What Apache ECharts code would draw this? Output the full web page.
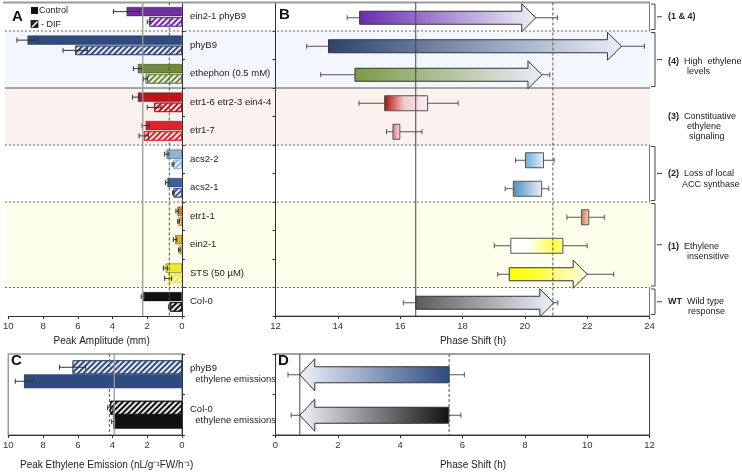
<!DOCTYPE html>
<html><head><meta charset="utf-8">
<script src="https://cdn.jsdelivr.net/npm/echarts@6/dist/echarts.min.js"></script>
<style>html,body{margin:0;padding:0;background:#fff}#c{width:742px;height:473px}</style>
</head><body><div id="c"></div>
<script>
// ---------- data ----------
const rowLabels = ['ein2-1 phyB9','phyB9','ethephon (0.5 mM)','etr1-6 etr2-3 ein4-4','etr1-7','acs2-2','acs2-1','etr1-1','ein2-1','STS (50 µM)','Col-0'];
const ampControl    = [3.2, 8.9, 2.55, 2.55, 2.1, 0.9, 0.85, 0.27, 0.4, 0.95, 2.25];
const ampControlErr = [0.75, 0.6, 0.25, 0.3, 0.2, 0.1, 0.1, 0.08, 0.1, 0.12, 0.1];
const ampDif        = [1.9, 6.15, 2.1, 1.6, 2.2, 0.52, 0.5, 0.2, 0.15, 0.8, 0.7];
const ampDifErr     = [0.1, 0.7, 0.12, 0.4, 0.27, 0.05, 0.05, 0.05, 0.05, 0.2, 0.08];
const ampRefs = [2.26, 0.73];

const phaseStart    = [14.7, 13.7, 14.55, 15.5, 15.77, 20.02, 19.63, 21.82, 19.55, 19.5, 16.5];
const phaseStartErr = [0.4, 0.7, 1.1, 0.82, 0.21, 0.32, 0.26, 0.47, 0.53, 0.37, 0.4];
const phaseEnd      = [20.35, 23.1, 20.55, 16.88, 15.99, 20.6, 20.54, 22.05, 21.22, 22.0, 20.93];
const phaseEndErr   = [0.7, 0.74, 0.25, 0.98, 0.71, 0.34, 0.23, 0.5, 0.78, 0.85, 0.13];
const phaseShape    = ['arrow','arrow','arrow','box','box','box','box','box','box','arrow','arrow'];
const phaseRefs = [16.5, 20.9];

const emisLabels = ['phyB9\n  ethylene emissions', 'Col-0\n  ethylene emissions'];
const emisDif        = [6.3, 4.13];
const emisDifErr     = [0.75, 0.15];
const emisControl    = [9.1, 3.95];
const emisControlErr = [0.5, 0.1];
const emisRefs = [3.9, 4.18];

const shiftTail    = [5.57, 5.56];
const shiftTailErr = [0.49, 0.39];
const shiftTip     = [0.78, 0.78];
const shiftTipErr  = [0.38, 0.28];
const shiftRefs = [0.78, 5.57];

// groups (row index ranges)
const bandFrom = [1, 3, 7];
const bandTo   = [2, 4, 9];
const bracketFrom = [0, 1, 5, 7, 10];
const bracketTo   = [0, 2, 6, 9, 10];
const sepRows = [0, 1, 3, 5, 7, 10];
const sepKind = ['frame','dot','solid','dot','dot','dot'];

// ---------- styles ----------
const FONT = '"Liberation Sans", Arial, sans-serif';
const barColors = ['#7030a0','#2f4a7e','#6f8a3e','#c0141c','#e0242a','#92b2de','#3e5f9c','#dc8a3a','#e4b42a','#efe935','#111111'];
const emisColors = ['#2f4a7e', '#111111'];
const bandFills = ['#f3f7fd','#fbf1ef','#fefeec'];
const phaseGrad = [
  [[0,'#6a2db0'],[1,'#eef0f8']],
  [[0,'#2c4470'],[1,'#e8eef9']],
  [[0,'#7c9a44'],[1,'#e8eef8']],
  [[0,'#b00c0c'],[0.45,'#f0c8cc'],[1,'#f8eef4']],
  [[0,'#e07080'],[1,'#f8e4ea']],
  [[0,'#6aaed6'],[1,'#eeeefa']],
  [[0,'#4a8fbe'],[1,'#eeeefa']],
  [[0,'#c47a4c'],[1,'#f2d8cc']],
  [[0,'#ffffff'],[0.3,'#ffffff'],[0.85,'#ffff40'],[1,'#ffffa8']],
  [[0,'#ffff00'],[0.3,'#ffff30'],[1,'#fbfbe6']],
  [[0,'#5a5a5a'],[1,'#eef2fa']]
];
const shiftGrad = [
  [[0,'#2c4a80'],[1,'#eef2fa']],
  [[0,'#111111'],[1,'#f2f3fa']]
];
const BAR_W = 9.5, BAR_GAP = 0.08;
const BAR_OFF = BAR_W * (1 + BAR_GAP) / 2;
const C_BAR_W = 14;

function hatch() {
  return { symbol:'rect', symbolSize:1, color:'rgba(255,255,255,0.9)', dashArrayX:[1,0], dashArrayY:[2,1.8], rotation:-Math.PI/4 };
}

function errRender(off) {
  return function(params, api) {
    const v = api.value(0), cat = api.value(1), e = api.value(2);
    const y = api.coord([v, cat])[1] + off;
    const xa = api.coord([v - e, cat])[0], xb = api.coord([v + e, cat])[0];
    const st = {stroke:'#333', lineWidth:1};
    return {type:'group', children:[
      {type:'line', shape:{x1:xa,y1:y,x2:xb,y2:y}, style:st},
      {type:'line', shape:{x1:xa,y1:y-2.5,x2:xa,y2:y+2.5}, style:st},
      {type:'line', shape:{x1:xb,y1:y-2.5,x2:xb,y2:y+2.5}, style:st}
    ]};
  };
}

function refRender(styles) {
  return function(params, api) {
    const x = api.coord([api.value(0), 0])[0];
    const cs = params.coordSys;
    return {type:'line', shape:{x1:x, y1:cs.y, x2:x, y2:cs.y + cs.height}, style:styles[params.dataIndex]};
  };
}

function arrowPoints(xs, xe, yc, shaftH, headH, headL) {
  const dir = xe >= xs ? 1 : -1;
  const hb = xe - dir * headL;
  return [[xs,yc-shaftH/2],[hb,yc-shaftH/2],[hb,yc-headH/2],[xe,yc],[hb,yc+headH/2],[hb,yc+shaftH/2],[xs,yc+shaftH/2]];
}
// data item: [start, cat, end, startErr, endErr]
function shapeRender(shapes, grads, dims) {
  return function(params, api) {
    const i = params.dataIndex;
    const s = api.value(0), cat = api.value(1), e = api.value(2), se = api.value(3), ee = api.value(4);
    const dir = e >= s ? 1 : -1;
    const p0 = api.coord([s, cat]), p1 = api.coord([e, cat]);
    const yc = p0[1] + dims.dy;
    const wl = api.coord([s - dir*se, cat])[0], wr = api.coord([e + dir*ee, cat])[0];
    const isArrow = shapes[i] === 'arrow';
    const g = (dir > 0 || !isArrow) ? [0,0,1,0] : [1,0,0,0];
    const fill = new echarts.graphic.LinearGradient(g[0],g[1],g[2],g[3], grads[i].map(([o,c]) => ({offset:o, color:c})));
    const st = {stroke:'#555', lineWidth:1};
    const children = [
      {type:'line', shape:{x1:wl,y1:yc,x2:wr,y2:yc}, style:st},
      {type:'line', shape:{x1:wl,y1:yc-2.5,x2:wl,y2:yc+2.5}, style:st},
      {type:'line', shape:{x1:wr,y1:yc-2.5,x2:wr,y2:yc+2.5}, style:st}
    ];
    if (isArrow) {
      children.push({type:'polygon', shape:{points:arrowPoints(p0[0], p1[0], yc, dims.shaft, dims.head, dims.headL)}, style:{fill:fill, stroke:'#333', lineWidth:1}});
    } else {
      children.push({type:'rect', shape:{x:Math.min(p0[0],p1[0]), y:yc-dims.box/2, width:Math.abs(p1[0]-p0[0]), height:dims.box}, style:{fill:fill, stroke:'#555', lineWidth:1}});
    }
    return {type:'group', children:children};
  };
}

function rowEdges(api, from, to) {
  const h = api.size([0,1])[1];
  return [api.coord([0, from])[1] - h/2, api.coord([0, to])[1] + h/2];
}

function valAxis(extra, name, gap, pad) {
  return Object.assign({
    type:'value', splitLine:{show:false},
    axisLine:{show:true, lineStyle:{color:'#333', width:1}},
    axisTick:{show:true, length:3, lineStyle:{color:'#333'}},
    axisLabel:{fontSize:9.5, color:'#333', margin:5, fontFamily:FONT},
    name:name, nameLocation:'middle', nameGap:gap,
    nameTextStyle:{fontSize:10, color:'#222', fontFamily:FONT, padding:[0,0,0,pad]}
  }, extra);
}
function catAxis(extra, showLabel) {
  return Object.assign({
    type:'category', inverse:true,
    axisLine:{show:true, lineStyle:{color:'#333', width:1}},
    axisTick:{show:true, length:3, lineStyle:{color:'#333'}},
    splitLine:{show:false},
    axisLabel: showLabel ? {interval:0, margin:8, fontSize:9.5, lineHeight:11, color:'#222', align:'left', fontFamily:FONT} : {show:false}
  }, extra);
}
const solidGray = {stroke:'#999', lineWidth:1.3};
const dashDark = {stroke:'#555', lineWidth:1, lineDash:[3,2]};
const solidDark = {stroke:'#444', lineWidth:1};

const chart = echarts.init(document.getElementById('c'));
const option = {
  animation:false,
  textStyle:{fontFamily:FONT},
  grid:[
    {left:8, top:2.5, width:174, height:313.5},
    {left:275.5, top:2.5, width:374, height:313.5, show:true, borderColor:'#777', borderWidth:1},
    {left:8, top:354, width:174, height:81, show:true, borderColor:'#999', borderWidth:1.5},
    {left:275.5, top:354, width:374, height:81, show:true, borderColor:'#444', borderWidth:1},
    {left:5, top:2.5, width:645, height:313.5}
  ],
  xAxis:[
    valAxis({gridIndex:0, min:0, max:10, interval:2, inverse:true}, 'Peak Amplitude (mm)', 18, 13),
    valAxis({gridIndex:1, min:12, max:24, interval:2}, 'Phase Shift (h)', 18, 21),
    valAxis({gridIndex:2, min:0, max:10, interval:2, inverse:true}, 'Peak Ethylene Emission (nL/g⁻¹FW/h⁻¹)', 25, 23),
    valAxis({gridIndex:3, min:0, max:12, interval:2}, 'Phase Shift (h)', 25, 21),
    {type:'value', gridIndex:4, min:0, max:1, show:false}
  ],
  yAxis:[
    catAxis({gridIndex:0, data:rowLabels, position:'right'}, true),
    catAxis({gridIndex:1, data:rowLabels, position:'left'}, false),
    catAxis({gridIndex:2, data:emisLabels, position:'right'}, true),
    catAxis({gridIndex:3, data:emisLabels, position:'left'}, false),
    {type:'category', gridIndex:4, data:rowLabels, inverse:true, show:false}
  ],
  series:[
    { // background bands
      type:'custom', xAxisIndex:4, yAxisIndex:4, z:0, silent:true,
      data:bandFrom.map((r,i) => [0, r, bandTo[i]]), encode:{x:0, y:1},
      renderItem:(params, api) => {
        const ed = rowEdges(api, api.value(1), api.value(2));
        const cs = params.coordSys;
        return {type:'rect', shape:{x:cs.x, y:ed[0], width:cs.width, height:ed[1]-ed[0]}, style:{fill:bandFills[params.dataIndex]}};
      }
    },
    { // separators
      type:'custom', xAxisIndex:4, yAxisIndex:4, z:1, silent:true,
      data:sepRows.map(r => [0, r]), encode:{x:0, y:1},
      renderItem:(params, api) => {
        const ed = rowEdges(api, api.value(1), api.value(1));
        const cs = params.coordSys;
        const k = sepKind[params.dataIndex];
        const style = k === 'frame' ? {stroke:'#999', lineWidth:2}
          : k === 'solid' ? {stroke:'#555', lineWidth:1} : {stroke:'#666', lineWidth:1, lineDash:[2,2]};
        return {type:'line', shape:{x1:cs.x - (k==='frame'?2:0), y1:ed[0], x2:cs.x+cs.width, y2:ed[0]}, style:style};
      }
    },
    { // brackets
      type:'custom', xAxisIndex:4, yAxisIndex:4, z:2, silent:true, clip:false,
      data:bracketFrom.map((r,i) => [0, r, bracketTo[i]]), encode:{x:0, y:1},
      renderItem:(params, api) => {
        const ed = rowEdges(api, api.value(1), api.value(2));
        const R = params.coordSys.x + params.coordSys.width;
        const y0 = ed[0] + 1.5, y1 = ed[1] - 1.5, ym = (ed[0] + ed[1]) / 2;
        const st = {stroke:'#444', lineWidth:1, fill:null};
        return {type:'group', children:[
          {type:'polyline', shape:{points:[[R+1,y0],[R+5,y0],[R+5,y1],[R+1,y1]]}, style:st},
          {type:'line', shape:{x1:R+7,y1:ym,x2:R+12,y2:ym}, style:st}
        ]};
      }
    },
    { // A control
      type:'bar', xAxisIndex:0, yAxisIndex:0, barWidth:BAR_W, barGap:(BAR_GAP*100)+'%',
      data:ampControl.map((v,i) => ({value:v, itemStyle:{color:barColors[i], borderColor:'rgba(0,0,0,0.45)', borderWidth:0.8}}))
    },
    { // A DIF
      type:'bar', xAxisIndex:0, yAxisIndex:0, barWidth:BAR_W, barGap:(BAR_GAP*100)+'%',
      data:ampDif.map((v,i) => ({value:v, itemStyle:{color:barColors[i], borderColor:barColors[i], borderWidth:1, decal:hatch()}}))
    },
    { type:'custom', xAxisIndex:0, yAxisIndex:0, z:3, silent:true,
      data:ampControl.map((v,i) => [v, i, ampControlErr[i]]), encode:{x:0, y:1}, renderItem:errRender(-BAR_OFF) },
    { type:'custom', xAxisIndex:0, yAxisIndex:0, z:3, silent:true,
      data:ampDif.map((v,i) => [v, i, ampDifErr[i]]), encode:{x:0, y:1}, renderItem:errRender(BAR_OFF) },
    { type:'custom', xAxisIndex:0, yAxisIndex:0, z:4, silent:true,
      data:ampRefs.map(v => [v, 0]), encode:{x:0, y:1}, renderItem:refRender([solidGray, dashDark]) },
    { // B phase shift
      type:'custom', xAxisIndex:1, yAxisIndex:1, z:2, silent:true,
      data:phaseStart.map((v,i) => [v, i, phaseEnd[i], phaseStartErr[i], phaseEndErr[i]]),
      encode:{x:0, y:1},
      renderItem:shapeRender(phaseShape, phaseGrad, {shaft:13, head:28, headL:14, box:15, dy:1})
    },
    { type:'custom', xAxisIndex:1, yAxisIndex:1, z:4, silent:true,
      data:phaseRefs.map(v => [v, 0]), encode:{x:0, y:1}, renderItem:refRender([solidDark, dashDark]) },
    { // C DIF (top)
      type:'bar', xAxisIndex:2, yAxisIndex:2, barWidth:C_BAR_W, barGap:'0%',
      data:emisDif.map((v,i) => ({value:v, itemStyle:{color:emisColors[i], borderColor:emisColors[i], borderWidth:1, decal:hatch()}}))
    },
    { // C control
      type:'bar', xAxisIndex:2, yAxisIndex:2, barWidth:C_BAR_W, barGap:'0%',
      data:emisControl.map((v,i) => ({value:v, itemStyle:{color:emisColors[i]}}))
    },
    { type:'custom', xAxisIndex:2, yAxisIndex:2, z:3, silent:true,
      data:emisDif.map((v,i) => [v, i, emisDifErr[i]]), encode:{x:0, y:1}, renderItem:errRender(-C_BAR_W/2) },
    { type:'custom', xAxisIndex:2, yAxisIndex:2, z:3, silent:true,
      data:emisControl.map((v,i) => [v, i, emisControlErr[i]]), encode:{x:0, y:1}, renderItem:errRender(C_BAR_W/2) },
    { type:'custom', xAxisIndex:2, yAxisIndex:2, z:4, silent:true,
      data:emisRefs.map(v => [v, 0]), encode:{x:0, y:1}, renderItem:refRender([solidGray, dashDark]) },
    { // D arrows
      type:'custom', xAxisIndex:3, yAxisIndex:3, z:2, silent:true,
      data:shiftTail.map((v,i) => [v, i, shiftTip[i], shiftTailErr[i], shiftTipErr[i]]),
      encode:{x:0, y:1},
      renderItem:shapeRender(['arrow','arrow'], shiftGrad, {shaft:16, head:32, headL:15, box:16, dy:0.5})
    },
    { type:'custom', xAxisIndex:3, yAxisIndex:3, z:4, silent:true,
      data:shiftRefs.map(v => [v, 0]), encode:{x:0, y:1}, renderItem:refRender([solidDark, dashDark]) }
  ],
  graphic:[
    {type:'text', x:12, y:17, style:{text:'A', font:'bold 15px '+FONT, fill:'#111', verticalAlign:'middle'}},
    {type:'rect', shape:{x:31, y:7, width:7, height:7}, style:{fill:'#111'}},
    {type:'text', x:39, y:11, style:{text:'Control', font:'9px '+FONT, fill:'#222', verticalAlign:'middle'}},
    {type:'rect', shape:{x:31, y:20.5, width:7, height:7}, style:{fill:'#222', stroke:'#111', lineWidth:0.8}},
    {type:'line', shape:{x1:32, y1:27, x2:37.5, y2:21.5}, style:{stroke:'#fff', lineWidth:1.5}},
    {type:'text', x:41, y:24.5, style:{text:'- DIF', font:'9px '+FONT, fill:'#222', verticalAlign:'middle'}},
    {type:'text', x:279, y:15, style:{text:'B', font:'bold 15px '+FONT, fill:'#111', verticalAlign:'middle'}},
    {type:'text', x:11, y:361, style:{text:'C', font:'bold 15px '+FONT, fill:'#111', verticalAlign:'middle'}},
    {type:'text', x:278, y:361, style:{text:'D', font:'bold 15px '+FONT, fill:'#111', verticalAlign:'middle'}},
    {type:'text', x:668, y:17, style:{text:'(1 & 4)', font:'bold 9px '+FONT, fill:'#222', verticalAlign:'middle'}},
    {type:'text', x:668, y:62, style:{text:'(4)', font:'bold 9px '+FONT, fill:'#222', verticalAlign:'middle'}},
    {type:'text', x:684, y:62, style:{text:'High  ethylene', font:'9px '+FONT, fill:'#222', verticalAlign:'middle'}},
    {type:'text', x:687, y:72, style:{text:'levels', font:'9px '+FONT, fill:'#222', verticalAlign:'middle'}},
    {type:'text', x:668, y:117, style:{text:'(3)', font:'bold 9px '+FONT, fill:'#222', verticalAlign:'middle'}},
    {type:'text', x:684, y:117, style:{text:'Constituative', font:'9px '+FONT, fill:'#222', verticalAlign:'middle'}},
    {type:'text', x:687, y:127, style:{text:'ethylene', font:'9px '+FONT, fill:'#222', verticalAlign:'middle'}},
    {type:'text', x:689, y:137, style:{text:'signaling', font:'9px '+FONT, fill:'#222', verticalAlign:'middle'}},
    {type:'text', x:668, y:174, style:{text:'(2)', font:'bold 9px '+FONT, fill:'#222', verticalAlign:'middle'}},
    {type:'text', x:684, y:174, style:{text:'Loss of local', font:'9px '+FONT, fill:'#222', verticalAlign:'middle'}},
    {type:'text', x:682, y:184.5, style:{text:'ACC synthase', font:'9px '+FONT, fill:'#222', verticalAlign:'middle'}},
    {type:'text', x:668, y:247, style:{text:'(1)', font:'bold 9px '+FONT, fill:'#222', verticalAlign:'middle'}},
    {type:'text', x:684, y:247, style:{text:'Ethylene', font:'9px '+FONT, fill:'#222', verticalAlign:'middle'}},
    {type:'text', x:687, y:257, style:{text:'insensitive', font:'9px '+FONT, fill:'#222', verticalAlign:'middle'}},
    {type:'text', x:668, y:302, style:{text:'WT', font:'bold 9px '+FONT, fill:'#222', verticalAlign:'middle'}},
    {type:'text', x:687, y:302, style:{text:'Wild type', font:'9px '+FONT, fill:'#222', verticalAlign:'middle'}},
    {type:'text', x:688, y:312, style:{text:'response', font:'9px '+FONT, fill:'#222', verticalAlign:'middle'}}
  ]
};
chart.setOption(option);
</script></body></html>
